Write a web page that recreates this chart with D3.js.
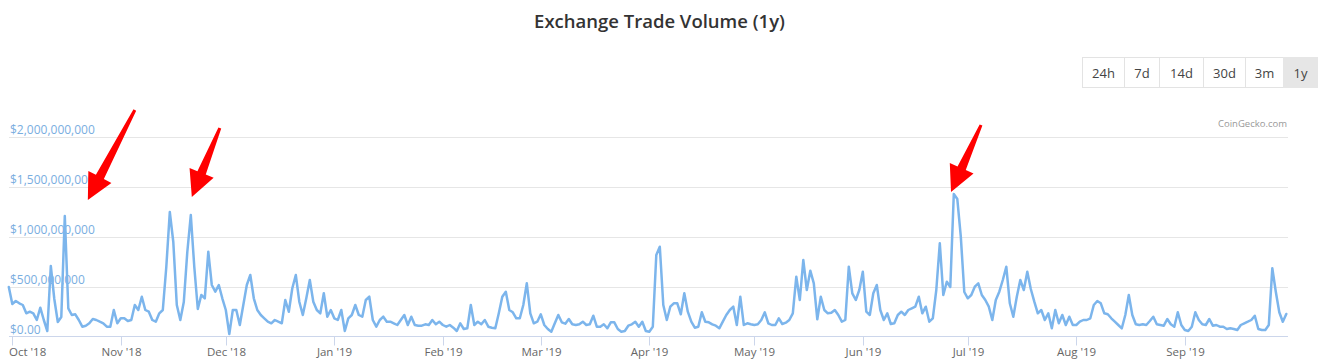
<!DOCTYPE html>
<html><head><meta charset="utf-8">
<script src="https://cdn.jsdelivr.net/npm/d3@7"></script>
<style>
body{margin:0;background:#fff;}
svg{display:block;font-family:"Open Sans","Noto Sans",sans-serif;}
</style>
</head><body>
<svg id="chart" width="1325" height="361"></svg>
<script>
// ---------- data (daily exchange trade volume, millions USD) ----------
const startDate = "2018-09-30";
const vol2018Sep = [500];
const vol2018Oct = [330,360,337,320,237,253,237,170,293,170,60,710,380,150,200,1210,287,220,227,170,103,113,137,180,170,153,137,103,103,270,137];
const vol2018Nov = [187,187,160,170,320,270,403,270,253,170,153,237,270,700,1250,950,320,170,350,850,1220,700,280,420,387,853,520,453,520,387];
const vol2018Dec = [270,30,270,270,120,320,520,620,387,270,220,187,153,137,170,153,137,370,253,487,620,353,220,387,570,353,270,237,437,203,270];
const vol2019Jan = [187,170,270,60,187,220,320,220,203,370,403,170,103,170,203,153,153,137,120,170,220,120,203,120,113,113,127,120,170,127,153];
const vol2019Feb = [120,103,120,93,60,137,80,87,320,120,153,127,170,103,93,87,237,403,453,270,247,187,187,320,537,237,137,153];
const vol2019Mar = [227,120,80,53,137,220,147,133,180,127,120,127,153,120,127,213,103,103,127,87,147,147,80,53,60,113,127,153,103,153,60];
const vol2019Apr = [53,103,820,903,320,170,303,337,337,227,437,253,153,93,103,247,153,147,127,113,87,153,220,270,303,120,403,120,137,127];
const vol2019May = [120,127,170,247,137,120,120,187,130,143,170,237,603,370,770,470,663,537,177,403,270,237,243,270,220,153,170,703,437,370,470];
const vol2019Jun = [653,253,220,437,520,270,170,237,130,137,220,253,220,270,287,303,403,237,303,153,187,470,937,420,553,500,1430,1380,1003,450];
const vol2019Jul = [387,420,503,537,420,370,303,170,370,453,570,703,337,203,403,570,470,653,480,353,237,270,170,237,87,270,137,220,120,203,120];
const vol2019Aug = [120,153,170,170,187,320,360,337,237,227,187,153,120,87,220,420,220,127,120,127,120,160,203,127,120,113,180,127,103,247,120];
const vol2019Sep = [70,60,103,247,170,127,120,180,113,120,103,103,80,87,80,70,120,137,153,170,213,80,70,70,120,687,453,247,153,230];

const yTickValues = [0, 500, 1000, 1500, 2000];
const yTickLabels = ["$0.00", "$500,000,000", "$1,000,000,000", "$1,500,000,000", "$2,000,000,000"];
const rangeButtons = ["24h", "7d", "14d", "30d", "3m", "1y"];
const activeRange = "1y";
const titleText = "Exchange Trade Volume (1y)";
const creditText = "CoinGecko.com";
// red annotation arrows: tip anchored on the data (date, value in millions)
const arrowTipDates = ["2018-10-22T14:00:00Z", "2018-11-21T07:00:00Z", "2019-06-26T05:00:00Z"];
const arrowTipValues = [1370, 1400, 1450];

// ---------- build ----------
const allVol = [].concat(vol2018Sep, vol2018Oct, vol2018Nov, vol2018Dec, vol2019Jan, vol2019Feb,
  vol2019Mar, vol2019Apr, vol2019May, vol2019Jun, vol2019Jul, vol2019Aug, vol2019Sep);
const t0 = new Date(startDate + "T00:00:00Z");
const series = allVol.map((v, i) => ({date: d3.utcDay.offset(t0, i), value: v}));

const svg = d3.select("#chart");
const W = 1325;
const plotL = 9, plotR = 1288;
const x = d3.scaleUtc()
  .domain([t0, d3.utcDay.offset(t0, 365)])
  .range([8.8, 1286.3]);
const y = d3.scaleLinear().domain([0, 2000]).range([337, 137]);

// title
svg.append("text").attr("x", W / 2 - 3).attr("y", 28).attr("text-anchor", "middle")
  .attr("font-size", 18.5).attr("font-weight", 600).attr("fill", "#333333").text(titleText);

// range buttons
const btnWidths = {"24h": 42, "7d": 35, "14d": 44, "30d": 42, "3m": 38, "1y": 34};
let bx = 1082;
const bg = svg.append("g");
rangeButtons.forEach(b => {
  const w = btnWidths[b];
  bg.append("rect").attr("x", bx + 0.5).attr("y", 57.5).attr("width", w).attr("height", 30)
    .attr("fill", b === activeRange ? "#e6e6e6" : "#ffffff")
    .attr("stroke", b === activeRange ? "#e6e6e6" : "#e3e3e3");
  bg.append("text").attr("x", bx + w / 2 + 0.5).attr("y", 78).attr("text-anchor", "middle")
    .attr("font-size", 13).attr("fill", "#444").text(b);
  bx += w;
});

// credit
svg.append("text").attr("x", 1287).attr("y", 127).attr("text-anchor", "end")
  .attr("font-size", 9.5).attr("fill", "#999999").text(creditText);

// gridlines
svg.append("g").selectAll("line").data(yTickValues.filter(v => v > 0)).join("line")
  .attr("x1", plotL).attr("x2", plotR)
  .attr("y1", d => Math.round(y(d)) + 0.5).attr("y2", d => Math.round(y(d)) + 0.5)
  .attr("stroke", "#e6e6e6").attr("stroke-width", 1);

// x axis
const xAxisY = Math.round(y(0)) - 0.5;
svg.append("line").attr("x1", plotL).attr("x2", plotR).attr("y1", xAxisY).attr("y2", xAxisY)
  .attr("stroke", "#ccd6eb");
const months = d3.utcMonth.range(new Date(Date.UTC(2018, 9, 1)), new Date(Date.UTC(2019, 8, 2)));
const fmt = d3.utcFormat("%b '%y");
const xg = svg.append("g");
months.forEach(m => {
  const px = Math.round(x(m)) + 0.5;
  xg.append("line").attr("x1", px).attr("x2", px).attr("y1", xAxisY).attr("y2", xAxisY + 9)
    .attr("stroke", "#ccd6eb");
  const t = xg.append("text").attr("y", 356).attr("font-size", 11.5).attr("fill", "#666666").text(fmt(m));
  const tw = t.node().getComputedTextLength();
  if (px - tw / 2 < plotL) t.attr("x", plotL).attr("text-anchor", "start");
  else t.attr("x", px).attr("text-anchor", "middle");
});

// y labels
svg.append("g").selectAll("text").data(yTickValues).join("text")
  .attr("x", 10).attr("y", d => y(d) - 3)
  .attr("font-size", 12).attr("fill", "#7aaedf")
  .text((d, i) => yTickLabels[i]);

// line
const line = d3.line().x(d => x(d.date)).y(d => y(d.value));
svg.append("path").datum(series).attr("d", line)
  .attr("fill", "none").attr("stroke", "#7cb5ec").attr("stroke-width", 2.5)
  .attr("stroke-linejoin", "round").attr("stroke-linecap", "round");

// arrows
const tailOffsets = [[47, -90], [28, -69], [30, -67]];
arrowTipDates.forEach((ds, i) => {
  const T = [x(new Date(ds)), y(arrowTipValues[i])];
  const S = [T[0] + tailOffsets[i][0], T[1] + tailOffsets[i][1]];
  const dx = T[0] - S[0], dy = T[1] - S[1], L = Math.hypot(dx, dy);
  const u = [dx / L, dy / L], n = [-u[1], u[0]];
  const headLen = 26, hw = 13, w0 = 1.5, w1 = 4.5;
  const B = [T[0] - u[0] * headLen, T[1] - u[1] * headLen];
  const p = (P, k) => [P[0] + n[0] * k, P[1] + n[1] * k];
  const pts = [p(S, w0), p(B, w1), p(B, hw), T, p(B, -hw), p(B, -w1), p(S, -w0)];
  svg.append("polygon").attr("points", pts.map(q => q.join(",")).join(" ")).attr("fill", "#ff0000");
});
</script>
</body></html>
